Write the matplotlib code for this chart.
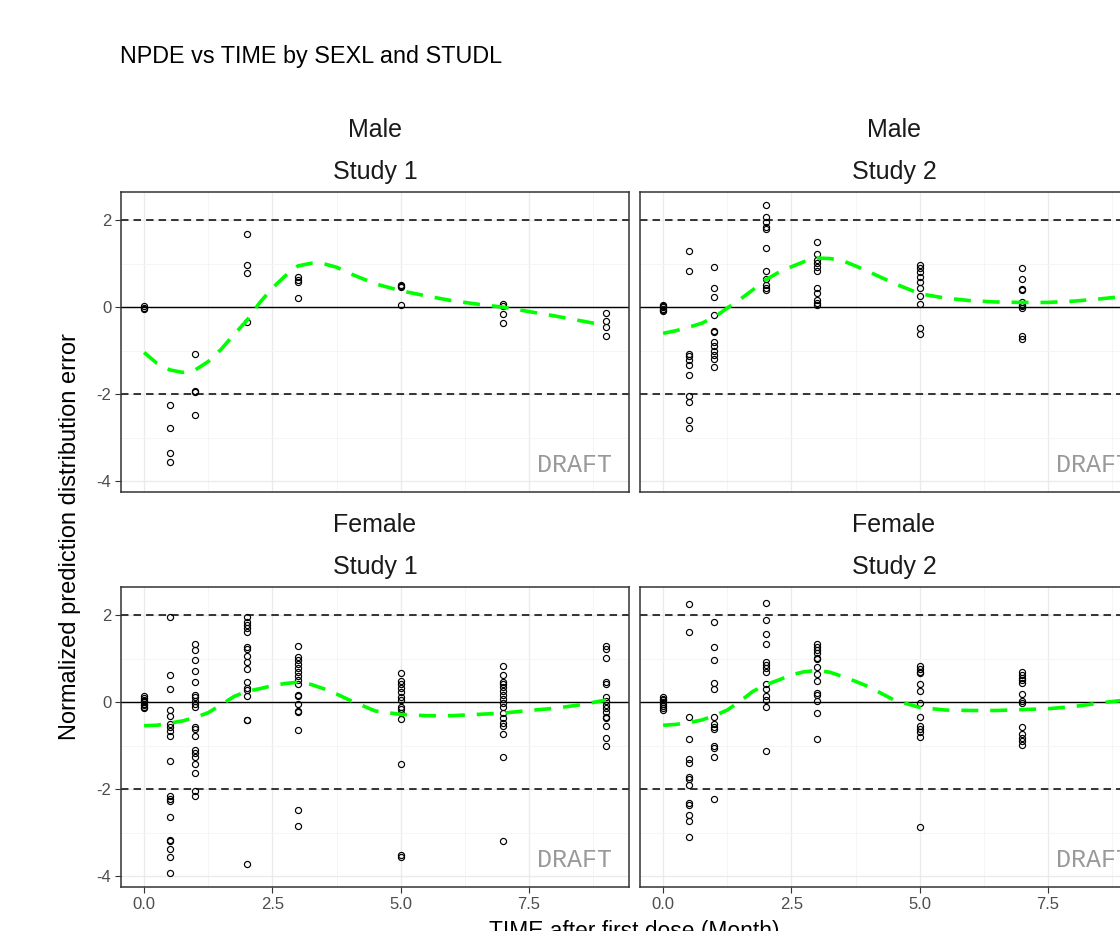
import matplotlib.pyplot as plt
import numpy as np

plt.rcParams['font.family'] = ['Liberation Sans', 'DejaVu Sans']
plt.rcParams['axes.unicode_minus'] = False

# nominal sampling times (months)
times = [0, 0.5, 1, 2, 3, 5, 7, 9]

# NPDE values per time, one list per panel
male_s1 = [
    [0.02, -0.01, -0.04],
    [-2.25, -2.77, -3.35, -3.56],
    [-1.07, -1.93, -1.96, -2.47],
    [1.69, 0.97, 0.79, -0.34],
    [0.69, 0.63, 0.57, 0.21],
    [0.51, 0.48, 0.46, 0.06],
    [0.07, 0.02, -0.15, -0.36],
    [-0.13, -0.31, -0.45, -0.67],
]
male_s2 = [
    [0.05, 0.02, 0.0, -0.03, -0.06, -0.09],
    [1.30, 0.84, -1.07, -1.13, -1.21, -1.32, -1.57, -2.05, -2.18, -2.59, -2.77],
    [0.92, 0.44, 0.24, -0.17, -0.54, -0.58, -0.79, -0.90, -1.00, -1.10, -1.18, -1.38],
    [2.34, 2.08, 1.97, 1.85, 1.80, 1.36, 0.84, 0.64, 0.51, 0.44, 0.40],
    [1.49, 1.23, 1.09, 1.01, 0.93, 0.84, 0.44, 0.32, 0.17, 0.09, 0.05],
    [0.97, 0.90, 0.80, 0.69, 0.57, 0.44, 0.26, 0.08, -0.48, -0.61],
    [0.91, 0.64, 0.41, 0.40, 0.11, 0.05, 0.02, -0.02, -0.66, -0.72],
    [],
]
female_s1 = [
    [0.14, 0.10, 0.06, 0.03, 0.0, -0.03, -0.06, -0.10, -0.14],
    [1.95, 0.62, 0.31, -0.18, -0.31, -0.51, -0.56, -0.66, -0.77, -1.36, -2.15,
     -2.22, -2.28, -2.64, -3.16, -3.20, -3.38, -3.56, -3.93],
    [1.34, 1.19, 0.96, 0.72, 0.46, 0.17, 0.11, 0.03, -0.05, -0.12, -0.56, -0.61,
     -0.77, -1.11, -1.17, -1.25, -1.43, -1.62, -2.04, -2.15],
    [1.95, 1.85, 1.78, 1.70, 1.62, 1.26, 1.23, 1.07, 0.93, 0.76, 0.46, 0.32,
     0.28, 0.15, -0.40, -0.41, -3.72],
    [1.30, 1.03, 0.97, 0.88, 0.78, 0.69, 0.61, 0.51, 0.41, 0.17, 0.15, -0.04,
     -0.20, -0.23, -0.65, -2.49, -2.84],
    [0.68, 0.49, 0.41, 0.32, 0.23, 0.13, 0.05, -0.12, -0.15, -0.25, -0.39,
     -1.42, -3.52, -3.55],
    [0.84, 0.63, 0.46, 0.41, 0.36, 0.26, 0.17, 0.08, -0.01, -0.10, -0.25, -0.37,
     -0.47, -0.54, -0.74, -1.27, -3.20],
    [1.30, 1.23, 1.01, 0.46, 0.41, 0.11, 0.03, -0.06, -0.14, -0.23, -0.33,
     -0.37, -0.54, -0.83, -1.00],
]
female_s2 = [
    [0.13, 0.08, 0.04, 0.0, -0.04, -0.08, -0.13, -0.18],
    [2.27, 1.62, -0.35, -0.84, -1.30, -1.40, -1.72, -1.76, -1.90, -2.31, -2.36,
     -2.59, -2.74, -3.10],
    [1.85, 1.27, 0.98, 0.44, 0.31, -0.34, -0.51, -0.58, -0.62, -1.00, -1.05,
     -1.27, -2.23],
    [2.29, 1.89, 1.56, 1.34, 0.92, 0.86, 0.78, 0.69, 0.41, 0.31, 0.15, 0.05,
     -0.10, -1.12],
    [1.35, 1.28, 1.20, 1.13, 1.01, 0.99, 0.82, 0.64, 0.48, 0.21, 0.17, 0.03,
     -0.25, -0.84],
    [0.84, 0.76, 0.70, 0.67, 0.41, 0.25, -0.02, -0.34, -0.54, -0.61, -0.69,
     -0.79, -2.87],
    [0.70, 0.63, 0.55, 0.50, 0.44, 0.20, 0.03, -0.02, -0.57, -0.73, -0.83,
     -0.90, -0.98],
    [],
]

# loess trend
smooth_x = [0, 0.25, 0.5, 0.75, 1, 1.25, 1.5, 1.75, 2, 2.25, 2.5, 2.75, 3,
            3.25, 3.5, 3.75, 4, 4.5, 5, 5.5, 6, 6.5, 7, 7.5, 8, 8.5, 9]
male_s1_smooth = [-1.04, -1.29, -1.44, -1.50, -1.44, -1.25, -0.97, -0.63, -0.31,
                  0.10, 0.44, 0.72, 0.95, 1.01, 1.00, 0.92, 0.78, 0.54, 0.38,
                  0.26, 0.15, 0.07, 0.00, -0.10, -0.20, -0.31, -0.42]
male_s2_smooth = [-0.60, -0.54, -0.46, -0.37, -0.23, -0.02, 0.18, 0.40, 0.63,
                  0.80, 0.93, 1.05, 1.13, 1.12, 1.07, 0.95, 0.82, 0.55, 0.31,
                  0.21, 0.15, 0.12, 0.11, 0.11, 0.14, 0.19, 0.25]
female_s1_smooth = [-0.54, -0.53, -0.48, -0.43, -0.35, -0.24, -0.06, 0.13, 0.25,
                    0.31, 0.38, 0.43, 0.46, 0.41, 0.31, 0.19, 0.05, -0.20, -0.28,
                    -0.31, -0.31, -0.28, -0.25, -0.19, -0.14, -0.06, 0.05]
female_s2_smooth = [-0.53, -0.51, -0.47, -0.41, -0.31, -0.18, 0.02, 0.25, 0.40,
                    0.51, 0.63, 0.70, 0.73, 0.69, 0.59, 0.48, 0.36, 0.05, -0.12,
                    -0.18, -0.19, -0.19, -0.17, -0.15, -0.10, -0.02, 0.05]

sex_labels = ["Male", "Male", "Female", "Female"]
study_labels = ["Study 1", "Study 2", "Study 1", "Study 2"]
x_ticks = [0.0, 2.5, 5.0, 7.5]
x_ticklabels = ["0.0", "2.5", "5.0", "7.5"]
y_ticks = [-4, -2, 0, 2]

W, H = 1120, 931
fig = plt.figure(figsize=(W / 100, H / 100), dpi=100)


def px_axes(left, top, w, h):
    return fig.add_axes([left / W, 1 - (top + h) / H, w / W, h / H])


panels = [
    (121, 192, male_s1, male_s1_smooth),
    (640, 192, male_s2, male_s2_smooth),
    (121, 587, female_s1, female_s1_smooth),
    (640, 587, female_s2, female_s2_smooth),
]
pw, ph = 508, 300

for i, (left, top, npde, smooth) in enumerate(panels):
    ax = px_axes(left, top, pw, ph)
    ax.set_xlim(-0.45, 9.45)
    ax.set_ylim(-4.25, 2.65)
    ax.set_xticks(x_ticks)
    ax.set_xticklabels(x_ticklabels)
    ax.set_yticks(y_ticks)
    ax.set_xticks([1.25, 3.75, 6.25, 8.75], minor=True)
    ax.set_yticks([-3, -1, 1], minor=True)
    ax.set_axisbelow(True)
    ax.grid(which='major', color='#EBEBEB', lw=1.0)
    ax.grid(which='minor', color='#F4F4F4', lw=0.6)
    for sp in ax.spines.values():
        sp.set_color('#333333')
        sp.set_linewidth(1.1)
    ax.tick_params(which='major', length=4, width=0.8, color='#333333',
                   labelcolor='#4D4D4D', labelsize=12, pad=3)
    ax.tick_params(which='minor', length=0)
    if i % 2 == 1:
        ax.tick_params(axis='y', left=False, labelleft=False)
    if i < 2:
        ax.tick_params(axis='x', bottom=False, labelbottom=False)

    ax.axhline(0, color='black', lw=1.0)
    for yv in (-2, 2):
        ax.axhline(yv, color='black', lw=1.1, ls=(0, (4.9, 3.3)))

    for t, vals in zip(times, npde):
        ax.plot([t] * len(vals), vals, 'o', mfc='none', mec='black',
                ms=4.4, mew=0.85)

    ax.plot(smooth_x, smooth, color='#00FF00', lw=2.6, ls=(0, (4.7, 3.3)))

    ax.text(0.9665, 0.067, "DRAFT", transform=ax.transAxes, ha='right',
            va='baseline', family=['Liberation Mono', 'DejaVu Sans Mono'],
            fontsize=18, color='#999999')

    cx = (left + pw / 2) / W
    fig.text(cx, 1 - (top - 62) / H, sex_labels[i], ha='center', va='center',
             fontsize=18, color='#1A1A1A')
    fig.text(cx, 1 - (top - 20) / H, study_labels[i], ha='center', va='center',
             fontsize=18, color='#1A1A1A')

fig.text(120 / W, 1 - 57 / H, "NPDE vs TIME by SEXL and STUDL", ha='left',
         va='center', fontsize=16.8, color='black')
fig.text(70 / W, 1 - 537 / H, "Normalized prediction distribution error",
         rotation=90, ha='center', va='center', fontsize=17, color='black')
fig.text(634 / W, 1 - 920 / H, "TIME after first dose (Month)", ha='center',
         va='top', fontsize=16.4, color='black')

fig.savefig("out.png", dpi=100)
